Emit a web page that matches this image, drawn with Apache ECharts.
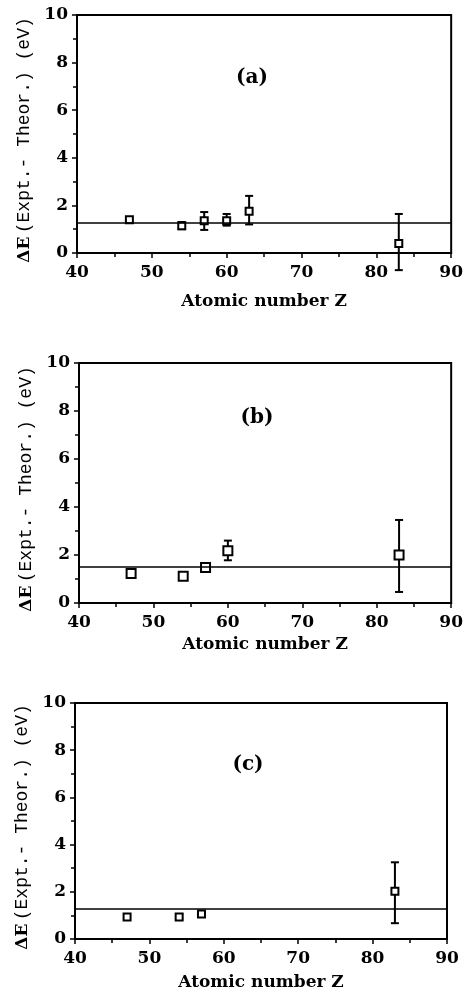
<!DOCTYPE html>
<html>
<head>
<meta charset="utf-8">
<script src="https://cdn.jsdelivr.net/npm/echarts@6/dist/echarts.min.js"></script>
<style>
  html, body { margin: 0; padding: 0; background: #fff; }
  #main { width: 466px; height: 996px; }
</style>
</head>
<body>
<div id="main"></div>
<script>
// panel (a)
const zA = [47, 54, 57, 60, 63, 83];
const valA = [1.4, 1.15, 1.36, 1.35, 1.75, 0.4];
const lowA = [1.4, 1.0, 0.97, 1.15, 1.2, -0.72];
const highA = [1.4, 1.3, 1.72, 1.64, 2.4, 1.64];
const fitA = 1.27;

// panel (b)
const zB = [47, 54, 57, 60, 83];
const valB = [1.23, 1.11, 1.48, 2.18, 2.0];
const lowB = [1.23, 1.11, 1.48, 1.78, 0.46];
const highB = [1.23, 1.11, 1.48, 2.6, 3.46];
const fitB = 1.5;

// panel (c)
const zC = [47, 54, 57, 83];
const valC = [0.93, 0.93, 1.06, 2.02];
const lowC = [0.93, 0.85, 0.98, 0.67];
const highC = [0.93, 1.05, 1.16, 3.25];
const fitC = 1.3;

const panelNames = ["(a)", "(b)", "(c)"];
const xName = "Atomic number Z";

const serif = "DejaVu Serif";
const mono = "Liberation Mono";

const panels = [
  { z: zA, v: valA, lo: lowA, hi: highA, fit: fitA, size: 7,
    grid: { left: 77, top: 15, width: 376, height: 238 }, nameGap: 40, label: [252, 78] },
  { z: zB, v: valB, lo: lowB, hi: highB, fit: fitB, size: 9,
    grid: { left: 79, top: 363, width: 373, height: 240 }, nameGap: 33, label: [257, 418] },
  { z: zC, v: valC, lo: lowC, hi: highC, fit: fitC, size: 7,
    grid: { left: 75, top: 703, width: 372, height: 236 }, nameGap: 35, label: [248, 765] },
];

function errorBars(params, api) {
  const x = api.value(0);
  const lo = api.value(1);
  const hi = api.value(2);
  if (lo === hi) return;
  const top = api.coord([x, hi]);
  const bot = api.coord([x, lo]);
  const w = 4;
  const style = { stroke: "#000", lineWidth: 2 };
  return {
    type: "group",
    children: [
      { type: "line", shape: { x1: top[0], y1: top[1], x2: bot[0], y2: bot[1] }, style },
      { type: "line", shape: { x1: top[0] - w, y1: top[1], x2: top[0] + w, y2: top[1] }, style },
      { type: "line", shape: { x1: bot[0] - w, y1: bot[1], x2: bot[0] + w, y2: bot[1] }, style },
    ],
  };
}

const grid = [];
const xAxis = [];
const yAxis = [];
const series = [];
const graphic = [];

panels.forEach((p, i) => {
  grid.push(Object.assign({ show: true, borderColor: "#000", borderWidth: 2 }, p.grid));
  xAxis.push({
    gridIndex: i,
    type: "value",
    min: 40,
    max: 90,
    interval: 10,
    name: xName,
    nameLocation: "middle",
    nameGap: p.nameGap,
    nameTextStyle: { fontFamily: serif, fontWeight: "bold", fontSize: 17, color: "#000" },
    axisLine: { lineStyle: { color: "#000", width: 2 } },
    axisTick: { length: 5, lineStyle: { color: "#000", width: 1.5 } },
    minorTick: { show: true, splitNumber: 2, length: 4, lineStyle: { color: "#000", width: 1.5 } },
    axisLabel: { color: "#000", fontFamily: serif, fontWeight: "bold", fontSize: 17, margin: 11 },
    splitLine: { show: false },
  });
  yAxis.push({
    gridIndex: i,
    type: "value",
    min: 0,
    max: 10,
    interval: 2,
    name: "{a|ΔE} {b|(Expt.- Theor.) (eV)}",
    nameLocation: "middle",
    nameGap: 36,
    nameTextStyle: {
      color: "#000",
      padding: [0, 12, 0, 0],
      rich: {
        a: { fontFamily: serif, fontWeight: "bold", fontSize: 17, color: "#000" },
        b: { fontFamily: mono, fontSize: 18, color: "#000" },
      },
    },
    axisLine: { lineStyle: { color: "#000", width: 2 } },
    axisTick: { length: 5, lineStyle: { color: "#000", width: 1.5 } },
    minorTick: { show: true, splitNumber: 2, length: 4, lineStyle: { color: "#000", width: 1.5 } },
    axisLabel: { color: "#000", fontFamily: serif, fontWeight: "bold", fontSize: 17, margin: 9 },
    splitLine: { show: false },
  });
  series.push({
    type: "custom",
    xAxisIndex: i,
    yAxisIndex: i,
    clip: false,
    silent: true,
    renderItem: errorBars,
    data: p.z.map((z, k) => [z, p.lo[k], p.hi[k]]),
    z: 2,
  });
  series.push({
    type: "scatter",
    xAxisIndex: i,
    yAxisIndex: i,
    symbol: "rect",
    symbolSize: p.size,
    itemStyle: { color: "#fff", borderColor: "#000", borderWidth: 2, opacity: 1 },
    data: p.z.map((z, k) => [z, p.v[k]]),
    z: 3,
    markLine: {
      silent: true,
      symbol: "none",
      label: { show: false },
      lineStyle: { color: "#000", width: 1.5, type: "solid" },
      data: [{ yAxis: p.fit }],
    },
  });
  graphic.push({
    type: "text",
    x: p.label[0],
    y: p.label[1],
    style: {
      text: panelNames[i],
      font: "bold 20px '" + serif + "'",
      fill: "#000",
      align: "center",
      verticalAlign: "middle",
    },
  });
});

const chart = echarts.init(document.getElementById("main"));
chart.setOption({
  animation: false,
  backgroundColor: "#fff",
  grid,
  xAxis,
  yAxis,
  series,
  graphic,
});
</script>
</body>
</html>
